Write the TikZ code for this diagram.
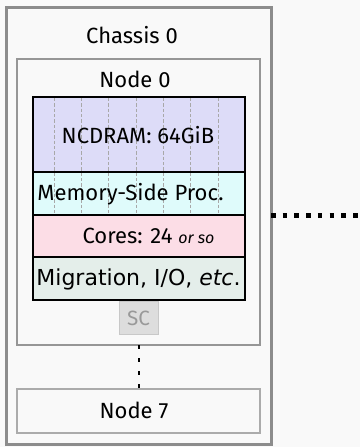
\documentclass[tikz,border=0pt]{standalone}
\usepackage{fontspec}
\setmainfont{Fira Sans}
\newfontfamily\dejavu{DejaVu Sans}
\usetikzlibrary{fit}
\definecolor{bgc}{HTML}{F9F9F9}
\definecolor{chassisc}{HTML}{8C8C8C}
\definecolor{nodec}{HTML}{969696}
\definecolor{node7c}{HTML}{ABABAB}
\definecolor{ncdramc}{HTML}{DDDCF8}
\definecolor{mspc}{HTML}{DFFBFB}
\definecolor{coresc}{HTML}{FCDDE6}
\definecolor{migc}{HTML}{E4EEEA}
\definecolor{scfill}{HTML}{DDDDDD}
\definecolor{scdraw}{HTML}{C8C8C8}
\definecolor{sctext}{HTML}{999999}
\definecolor{gridc}{HTML}{A8A8A8}
\tikzset{
  box/.style={inner sep=0pt, outer sep=0pt},
  chassisbox/.style={box, draw=chassisc, line width=2.25pt, fill=bgc},
  nodebox/.style={box, draw=nodec, line width=1.8pt, fill=bgc},
  node7box/.style={box, draw=node7c, line width=0.8pt, fill=bgc},
  layerbox/.style={box, draw=black, line width=1.1pt},
  scbox/.style={box, draw=scdraw, line width=0.75pt, fill=scfill},
  lbl/.style={inner sep=0pt, anchor=base, font=\fontsize{16.5}{20}\selectfont},
  gridline/.style={draw=gridc, line width=0.7pt, dash pattern=on 2.4pt off 1.6pt},
  hdots/.style={draw=black, line width=3.4pt, dash pattern=on 3.4pt off 5.4pt},
  vdots/.style={draw=black, line width=2.2pt, dash pattern=on 3pt off 6.8pt},
}
\begin{document}
\begin{tikzpicture}[x=0.75pt, y=-0.75pt]
\useasboundingbox[fill=bgc] (0,0) rectangle (360,447);
% containers
\node[chassisbox, fit={(6.5,7.5) (271,444)}] (chassis) {};
\node[nodebox, fit={(17,59) (260,345)}] (node0) {};
\node[node7box, fit={(17,389) (260,433)}] (node7) {};
% layers
\node[layerbox, fill=ncdramc, fit={(33,97) (245,172)}] (ncdram) {};
\node[layerbox, fill=mspc, fit={(33,172) (245,215)}] (msp) {};
\node[layerbox, fill=coresc, fit={(33,215) (245,257)}] (cores) {};
\node[layerbox, fill=migc, fit={(33,257) (245,300)}] (mig) {};
% grid lines
\foreach \gx in {54.3,81.6,108.9,136.2,163.5,190.8,218.1}
  \draw[gridline] (\gx,98) -- (\gx,214.3);
% redraw layer borders on top of grid
\draw[black, line width=1.1pt] (ncdram.south west) -- (ncdram.south east);
\draw[black, line width=1.1pt] (ncdram.north west) -- (ncdram.north east);
\draw[black, line width=1.1pt] (msp.south west) -- (msp.south east);
% SC
\node[scbox, fit={(119,301) (158,334)}] (sc) {};
% labels
\node[lbl] (tchassis) at (132,43) {Chassis 0};
\node[lbl] (tnode0) at (135,87) {Node 0};
\node[lbl] (tncdram) at (138,143) {NCDRAM: 64GiB};
\node[lbl] (tmsp) at (130.5,200) {Memory-Side Proc.};
\node[lbl] (tcores) at (148.5,243) {Cores: 24 {\fontsize{12}{14}\selectfont\itshape or so}};
\node[lbl, font=\fontsize{16.5}{20}\dejavu] (tmig) at (138.5,285) {Migration, I/O, \textit{etc}.};
\node[lbl, text=sctext, font=\fontsize{15.5}{18}\selectfont] (tsc) at (138.5,325) {SC};
\node[lbl] (tnode7) at (134,418) {Node 7};
% connectors
\coordinate (farright) at (362,215.5);
\draw[hdots] (chassis.east |- farright) -- (farright);
\draw[vdots] (node0.south -| 139,0) -- (node7.north -| 139,0);
\end{tikzpicture}
\end{document}
